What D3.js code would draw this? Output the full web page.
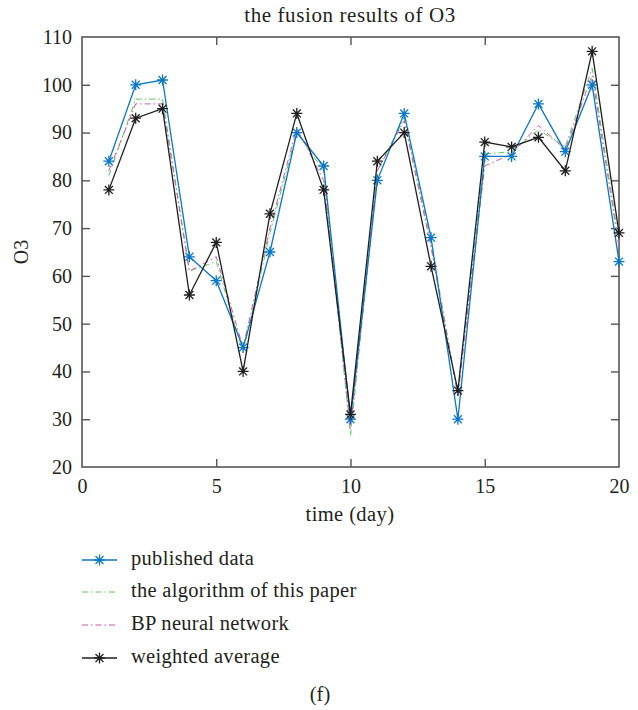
<!DOCTYPE html>
<html>
<head>
<meta charset="utf-8">
<script src="https://cdn.jsdelivr.net/npm/d3@7"></script>
<style>
  html, body { margin: 0; padding: 0; background: #fff; }
  svg { display: block; }
  text { font-family: "Liberation Serif", "DejaVu Serif", serif; fill: #231f20; }
</style>
</head>
<body>
<svg id="chart" width="638" height="710"></svg>
<script>
// Days 1..20
const days = d3.range(1, 21);

// Measured (published) O3 values
const published = [84, 100, 101, 64, 59, 45, 65, 90, 83, 30, 80, 94, 68, 30, 85, 85, 96, 86, 100, 63];
// Fusion result of the proposed algorithm
const algorithm = [81, 97, 97, 61, 63, 44, 69, 90, 82, 26.5, 82, 93, 67, 35, 85.5, 86, 90.6, 87, 103.5, 67];
// BP neural network prediction
const bpNetwork = [82, 96, 96, 61, 64, 45, 70, 91, 80, 28, 82, 92.5, 66, 35, 83, 85.5, 91.5, 86.5, 102, 66];
// Weighted-average fusion
const weighted = [78, 93, 95, 56, 67, 40, 73, 94, 78, 31, 84, 90, 62, 36, 88, 87, 89, 82, 107, 69];

const xTicks = [0, 5, 10, 15, 20];
const yTicks = [20, 30, 40, 50, 60, 70, 80, 90, 100, 110];

const seriesNames = ["published data", "the algorithm of this paper", "BP neural network", "weighted average"];

const series = [
  { name: seriesNames[0], values: published, color: "#0a78c8", dash: null, marker: true, width: 1.3 },
  { name: seriesNames[1], values: algorithm, color: "#5cc85c", dash: "6,3,1.5,3", marker: false, width: 1 },
  { name: seriesNames[2], values: bpNetwork, color: "#cc5aa8", dash: "6,3,1.5,3", marker: false, width: 1 },
  { name: seriesNames[3], values: weighted, color: "#1f1f1f", dash: null, marker: true, width: 1.3 }
];

const svg = d3.select("#chart");
const axisColor = "#555";
const fontSize = 20;

const x = d3.scaleLinear().domain([0, 20]).range([82, 619]);
const y = d3.scaleLinear().domain([20, 110]).range([467, 37]);

// Title
svg.append("text")
  .attr("x", 350).attr("y", 22)
  .attr("text-anchor", "middle")
  .attr("font-size", 21)
  .attr("letter-spacing", 0.6)
  .text("the fusion results of O3");

// Plot frame
svg.append("rect")
  .attr("x", x(0)).attr("y", y(110))
  .attr("width", x(20) - x(0)).attr("height", y(20) - y(110))
  .attr("fill", "none").attr("stroke", axisColor).attr("stroke-width", 1.6);

const tickLen = 8;

// Bottom axis (ticks pointing inward) and matching top ticks
const xAxis = d3.axisBottom(x).tickValues(xTicks).tickSize(-tickLen).tickPadding(12);
const gx = svg.append("g").attr("transform", `translate(0,${y(20)})`).call(xAxis);
const xAxisTop = d3.axisTop(x).tickValues(xTicks).tickSize(-tickLen).tickFormat("");
const gxt = svg.append("g").attr("transform", `translate(0,${y(110)})`).call(xAxisTop);

// Left axis and matching right ticks
const yAxis = d3.axisLeft(y).tickValues(yTicks).tickSize(-tickLen).tickPadding(10);
const gy = svg.append("g").attr("transform", `translate(${x(0)},0)`).call(yAxis);
const yAxisRight = d3.axisRight(y).tickValues(yTicks).tickSize(-tickLen).tickFormat("");
const gyr = svg.append("g").attr("transform", `translate(${x(20)},0)`).call(yAxisRight);

[gx, gxt, gy, gyr].forEach(g => {
  g.select(".domain").remove();
  g.selectAll(".tick line").attr("stroke", axisColor).attr("stroke-width", 1.4);
  g.selectAll(".tick text")
    .attr("font-family", "Liberation Serif, DejaVu Serif, serif")
    .attr("font-size", fontSize).attr("fill", "#231f20");
});
// Drop the end ticks that sit on the frame corners
[gx, gxt].forEach(g => g.selectAll(".tick line").filter(d => d === 0 || d === 20).remove());
[gy, gyr].forEach(g => g.selectAll(".tick line").filter(d => d === 20 || d === 110).remove());

// Axis labels
svg.append("text")
  .attr("x", 350).attr("y", 521)
  .attr("text-anchor", "middle")
  .attr("font-size", 20.5)
  .attr("letter-spacing", 0.4)
  .text("time (day)");

svg.append("text")
  .attr("transform", "translate(28,252) rotate(-90)")
  .attr("text-anchor", "middle")
  .attr("font-size", 20)
  .text("O3");

// Asterisk marker: plus sign overlaid with a cross
function asterisk(g, cx, cy, r, color) {
  const d = r * 0.72;
  const p = `M${cx - r},${cy}L${cx + r},${cy}M${cx},${cy - r}L${cx},${cy + r}` +
            `M${cx - d},${cy - d}L${cx + d},${cy + d}M${cx - d},${cy + d}L${cx + d},${cy - d}`;
  g.append("path").attr("d", p).attr("stroke", color).attr("stroke-width", 1.3).attr("fill", "none");
}

const line = d3.line().x((d, i) => x(days[i])).y(d => y(d));

// Draw dashed series first, then the solid ones with markers on top
const order = [1, 2, 0, 3];
order.forEach(k => {
  const s = series[k];
  const g = svg.append("g");
  g.append("path")
    .datum(s.values)
    .attr("d", line)
    .attr("fill", "none")
    .attr("stroke", s.color)
    .attr("stroke-width", s.width)
    .attr("stroke-dasharray", s.dash)
    .attr("stroke-linejoin", "miter");
  if (s.marker) {
    s.values.forEach((v, i) => asterisk(g, x(days[i]), y(v), 5.5, s.color));
  }
});

// Legend
const legendY = [560, 592, 625, 658];
series.forEach((s, i) => {
  const g = svg.append("g");
  g.append("line")
    .attr("x1", 82).attr("x2", 117)
    .attr("y1", legendY[i]).attr("y2", legendY[i])
    .attr("stroke", s.color)
    .attr("stroke-width", s.width)
    .attr("stroke-dasharray", s.dash);
  if (s.marker) asterisk(g, 99.5, legendY[i], 5.5, s.color);
  g.append("text")
    .attr("x", 131).attr("y", legendY[i] + 5)
    .attr("font-size", 20.5)
    .attr("letter-spacing", 0.3)
    .text(s.name);
});

// Panel label
svg.append("text")
  .attr("x", 320).attr("y", 701)
  .attr("text-anchor", "middle")
  .attr("font-size", 20.5)
  .text("(f)");
</script>
</body>
</html>
